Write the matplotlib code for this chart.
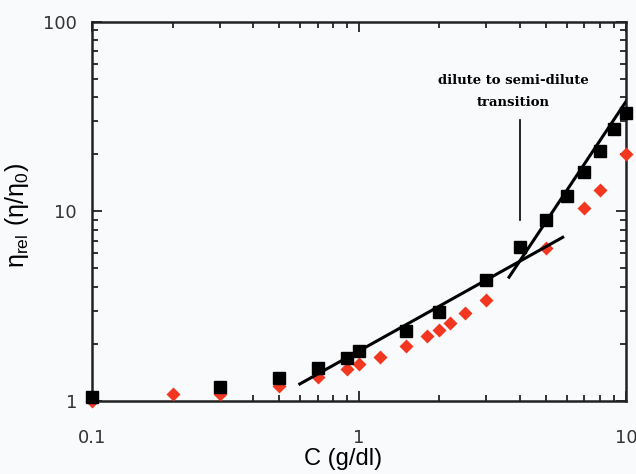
import numpy as np
import matplotlib.pyplot as plt

# black squares
conc_black = [0.1, 0.3, 0.5, 0.7, 0.9, 1.0, 1.5, 2.0, 3.0, 4.0, 5.0, 6.0, 7.0, 8.0, 9.0, 10.0]
eta_black = [1.05, 1.19, 1.32, 1.49, 1.69, 1.84, 2.34, 2.95, 4.35, 6.5, 9.0, 12.1, 16.2, 20.9, 27.2, 33.0]

# red diamonds
conc_red = [0.1, 0.2, 0.3, 0.5, 0.7, 0.9, 1.0, 1.2, 1.5, 1.8, 2.0, 2.2, 2.5, 3.0, 5.0, 7.0, 8.0, 10.0]
eta_red = [1.0, 1.09, 1.09, 1.2, 1.34, 1.48, 1.57, 1.71, 1.95, 2.2, 2.37, 2.58, 2.91, 3.41, 6.4, 10.4, 13.0, 20.1]

# power-law fits (end points)
fit_dilute_x = [0.6, 5.8]
fit_dilute_y = [1.23, 7.3]
fit_semi_x = [3.65, 10.5]
fit_semi_y = [4.5, 42.0]

fig = plt.figure(figsize=(6.36, 4.74), dpi=100)
fig.patch.set_facecolor('#f9fafc')
ax = fig.add_axes([0.145, 0.154, 0.839, 0.800])
ax.set_facecolor('#f9fafc')

ax.plot(conc_red, eta_red, 'D', color='#f2361f', markersize=7, mec='none', clip_on=False, zorder=3)
ax.plot(conc_black, eta_black, 's', color='black', markersize=8.5, clip_on=False, zorder=4)
ax.plot(fit_dilute_x, fit_dilute_y, '-', color='black', lw=2.2, zorder=5)
ax.plot(fit_semi_x, fit_semi_y, '-', color='black', lw=2.2, zorder=5)

ax.set_xscale('log')
ax.set_yscale('log')
ax.set_xlim(0.1, 10)
ax.set_ylim(1, 100)
ax.set_xticks([0.1, 1, 10])
ax.set_xticklabels(['0.1', '1', '10'])
ax.set_yticks([1, 10, 100])
ax.set_yticklabels(['1', '10', '100'])

for s in ax.spines.values():
    s.set_linewidth(1.8)
    s.set_color('#222222')
ax.tick_params(which='both', direction='in', top=True, right=True, width=1.3, color='#222222')
ax.tick_params(which='major', length=7, labelsize=13, labelcolor='#333333')
ax.tick_params(which='minor', length=4)
ax.tick_params(axis='x', which='major', pad=20)
ax.tick_params(axis='y', which='major', pad=11)

ax.set_xlabel('C (g/dl)', fontsize=17, family='Liberation Sans')
ax.set_ylabel(r'$\mathregular{\eta_{rel}\ (\eta/\eta_0)}$', fontsize=18, family='Liberation Sans')
ax.yaxis.set_label_coords(-0.115, 0.49)
ax.xaxis.set_label_coords(0.47, -0.125)

# transition marker
ax.plot([4.0, 4.0], [9.0, 30.4], '-', color='black', lw=1.2)
ax.text(3.8, 43, 'dilute to semi-dilute\ntransition', ha='center', va='center',
        fontsize=9.5, fontweight='bold', family='DejaVu Serif', linespacing=1.9)

fig.savefig('out.png', dpi=100, facecolor=fig.get_facecolor())
